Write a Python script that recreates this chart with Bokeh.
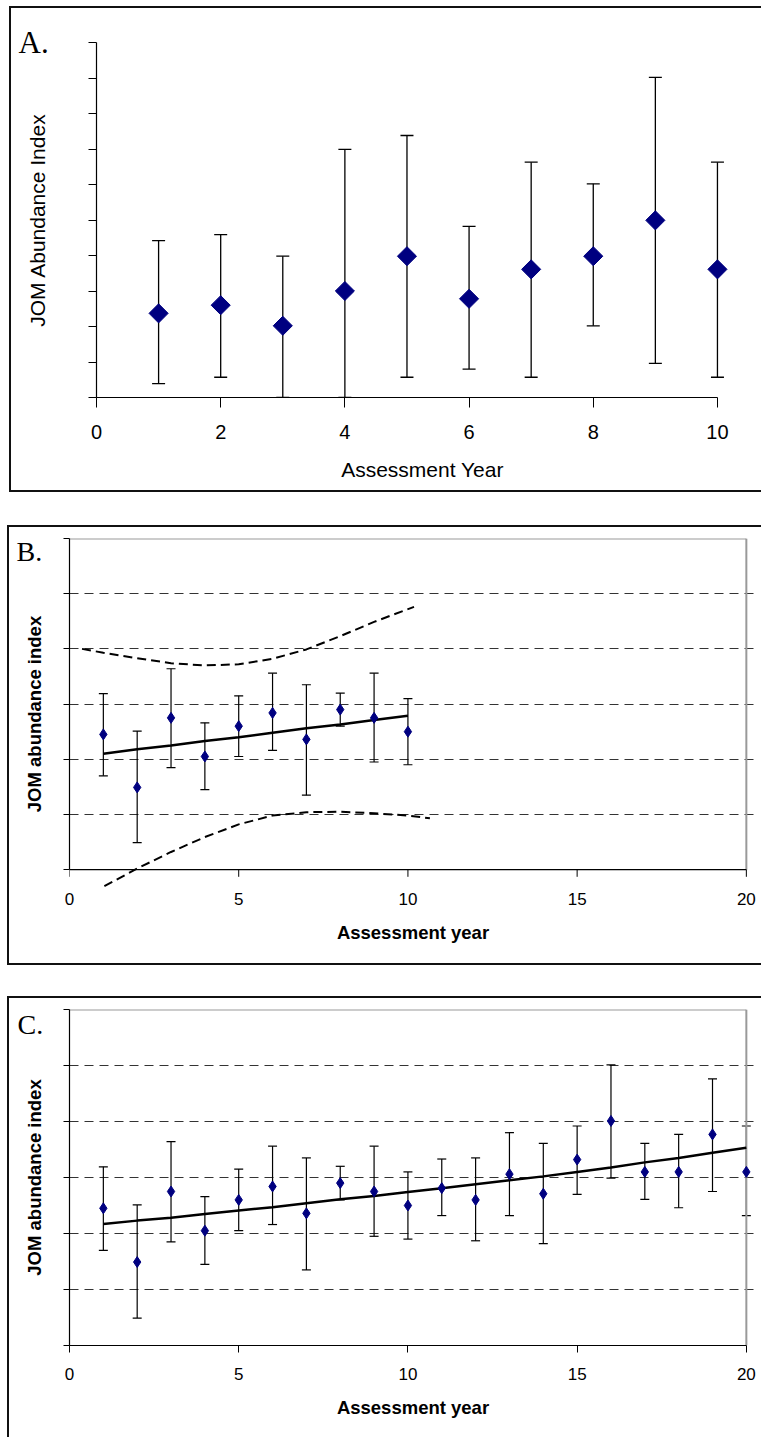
import numpy as np
from bokeh.plotting import figure
from bokeh.layouts import column
from bokeh.models import ColumnDataSource, Whisker, TeeHead, FixedTicker, Title
from bokeh.embed import file_html
from bokeh.resources import INLINE

# ---------------- Panel A data ----------------
years_a = [1, 2, 3, 4, 5, 6, 7, 8, 9, 10]
index_a = [2.37, 2.60, 2.02, 3.00, 3.98, 2.78, 3.61, 3.98, 4.99, 3.61]
upper_a = [4.42, 4.59, 3.98, 6.99, 7.38, 4.82, 6.63, 6.02, 9.02, 6.63]
lower_a = [0.39, 0.57, 0.00, 0.00, 0.57, 0.80, 0.57, 2.02, 0.96, 0.57]
xticks_a = [0, 2, 4, 6, 8, 10]
yticks_a = [0, 1, 2, 3, 4, 5, 6, 7, 8, 9, 10]

# ---------------- Panels B / C data ----------------
years = [1, 2, 3, 4, 5, 6, 7, 8, 9, 10, 11, 12, 13, 14, 15, 16, 17, 18, 19, 20]
index_c = [2.45, 1.49, 2.75, 2.05, 2.60, 2.84, 2.36, 2.90, 2.75, 2.50,
           2.81, 2.60, 3.06, 2.71, 3.32, 4.01, 3.10, 3.10, 3.77, 3.10]
upper_c = [3.19, 2.51, 3.64, 2.66, 3.15, 3.56, 3.35, 3.20, 3.56, 3.10,
           3.33, 3.35, 3.80, 3.61, 3.92, 5.01, 3.61, 3.77, 4.76, 3.92]
lower_c = [1.70, 0.49, 1.85, 1.45, 2.05, 2.16, 1.35, 2.60, 1.95, 1.90,
           2.32, 1.87, 2.32, 1.82, 2.70, 2.99, 2.61, 2.46, 2.75, 2.32]
trend_b = [2.10, 2.18, 2.25, 2.33, 2.40, 2.48, 2.56, 2.63, 2.71, 2.79]
trend_c = [2.17, 2.23, 2.28, 2.35, 2.41, 2.47, 2.54, 2.61, 2.67, 2.74,
           2.81, 2.88, 2.95, 3.02, 3.10, 3.18, 3.27, 3.35, 3.44, 3.53]
band_up_x = [0.37, 1, 2, 3, 4, 5, 6, 7, 8, 9, 10.18]
band_up_y = [4.00, 3.93, 3.83, 3.74, 3.70, 3.72, 3.82, 3.99, 4.23, 4.49, 4.76]
band_lo_x = [1.03, 2, 3, 4, 5, 6, 7, 8, 9, 10, 10.65]
band_lo_y = [-0.30, 0.02, 0.32, 0.59, 0.82, 0.98, 1.04, 1.05, 1.02, 0.98, 0.93]
xticks_bc = [0, 5, 10, 15, 20]
yticks_bc = [0, 1, 2, 3, 4, 5, 6]
grid_bc = [1, 2, 3, 4, 5]

SANS = "Liberation Sans"
SERIF = "Liberation Serif"
NAVY = "#000080"


def base_style(p):
    p.background_fill_alpha = 0
    p.border_fill_alpha = 0
    for ax in (p.xaxis, p.yaxis):
        ax.axis_line_color = "black"
        ax.axis_line_width = 1.2
        ax.major_tick_line_color = "black"
        ax.major_tick_in = 0
        ax.minor_tick_line_color = None
        ax.major_label_text_font = SANS
        ax.major_label_text_color = "black"
        ax.axis_label_text_font = SANS
        ax.axis_label_text_color = "black"


def add_errorbars(p, src, cap, lw):
    w = Whisker(source=src, base="x", upper="hi", lower="lo",
                line_color="black", line_width=lw, level="underlay",
                upper_head=TeeHead(size=cap, line_color="black", line_width=lw),
                lower_head=TeeHead(size=cap, line_color="black", line_width=lw))
    p.add_layout(w)


def panel_letter(p, text, size, offset, standoff, pad_top):
    # padding tuple order: (left, right, top, bottom)
    p.add_layout(Title(text=text, align="left", offset=offset, standoff=standoff,
                       padding=(0, 0, pad_top, 0),
                       text_font=SERIF, text_font_size=size, text_font_style="normal",
                       text_color="black"), "above")


# ================= Panel A =================
pa = figure(width=752, height=486, x_range=(0, 10.5), y_range=(0, 10),
            output_backend="svg", toolbar_location=None, frame_align=False,
            min_border_left=87, min_border_right=13, min_border_top=36, min_border_bottom=95,
            margin=(6, 0, 0, 9), outline_line_color=None,
            styles={"box-shadow": "inset 2px 2px 0 #111, inset 0 -2px 0 #111"})
base_style(pa)
pa.grid.visible = False
pa.xaxis.bounds = (xticks_a[0], xticks_a[-1])
pa.xaxis.ticker = FixedTicker(ticks=xticks_a, minor_ticks=[])
pa.xaxis.major_tick_out = 10
pa.xaxis.major_label_text_font_size = "20px"
pa.xaxis.major_label_standoff = 17
pa.xaxis.axis_label = "Assessment Year"
pa.xaxis.axis_label_text_font_size = "21px"
pa.xaxis.axis_label_text_font_style = "normal"
pa.xaxis.axis_label_standoff = 16
pa.yaxis.ticker = FixedTicker(ticks=yticks_a, minor_ticks=[])
pa.yaxis.major_tick_out = 8
pa.yaxis.major_label_overrides = {t: "" for t in yticks_a}
pa.yaxis.major_label_standoff = 0
pa.yaxis.axis_label = "JOM Abundance Index"
pa.yaxis.axis_label_text_font_size = "21px"
pa.yaxis.axis_label_text_font_style = "normal"
pa.yaxis.axis_label_standoff = 40

src_a = ColumnDataSource(dict(x=years_a, y=index_a, hi=upper_a, lo=lower_a))
add_errorbars(pa, src_a, 13, 1.3)
pa.scatter(x="x", y="y", source=src_a, marker="square", angle=np.pi / 4, size=13.5,
           fill_color=NAVY, line_color=NAVY)
panel_letter(pa, "A.", "31px", -78, -35, 2)


def style_bc(p):
    p.xgrid.visible = False
    p.ygrid.ticker = FixedTicker(ticks=grid_bc, minor_ticks=[])
    p.ygrid.grid_line_color = "#333333"
    p.ygrid.grid_line_dash = "9 6"
    p.ygrid.grid_line_width = 1
    p.xaxis.ticker = FixedTicker(ticks=xticks_bc, minor_ticks=[])
    p.xaxis.major_label_text_font_size = "17px"
    p.xaxis.axis_label = "Assessment year"
    p.xaxis.axis_label_text_font_size = "18.5px"
    p.xaxis.axis_label_text_font_style = "bold"
    p.xaxis.axis_label_standoff = 14
    p.yaxis.ticker = FixedTicker(ticks=yticks_bc, minor_ticks=[])
    p.yaxis.major_tick_out = 6
    p.yaxis.major_label_overrides = {t: "" for t in yticks_bc}
    p.yaxis.major_label_standoff = 0
    p.yaxis.axis_label = "JOM abundance index"
    p.yaxis.axis_label_text_font_size = "18.5px"
    p.yaxis.axis_label_text_font_style = "bold"
    p.yaxis.axis_label_standoff = 19
    p.yaxis.bounds = (yticks_bc[0], yticks_bc[-1])
    # plot-area border (top and right), light grey
    p.segment(x0=[xticks_bc[0], xticks_bc[-1]], y0=[yticks_bc[-1], yticks_bc[0]],
              x1=[xticks_bc[-1], xticks_bc[-1]], y1=[yticks_bc[-1], yticks_bc[-1]],
              line_color="#999999", line_width=2)


# ================= Panel B =================
pb = figure(width=754, height=440, x_range=(0, 20.3), y_range=(-0.36, 6),
            output_backend="svg", toolbar_location=None, frame_align=False,
            min_border_left=62, min_border_right=5, min_border_top=13, min_border_bottom=76,
            margin=(33, 0, 0, 7), outline_line_color=None,
            styles={"box-shadow": "inset 2px 2px 0 #111, inset 0 -2px 0 #111"})
base_style(pb)
style_bc(pb)
pb.xaxis.axis_line_color = None
pb.xaxis.major_tick_line_color = None
pb.xaxis.major_tick_out = 0
pb.xaxis.major_label_standoff = 3

# x axis line and ticks at y = 0 (the lower band dips below it)
pb.segment(x0=[xticks_bc[0]], y0=[yticks_bc[0]], x1=[xticks_bc[-1]], y1=[yticks_bc[0]],
           line_color="black", line_width=1.2)
pb.segment(x0=xticks_bc, y0=[0] * len(xticks_bc), x1=xticks_bc, y1=[-0.13] * len(xticks_bc),
           line_color="black", line_width=1)

pb.line(band_up_x, band_up_y, line_color="black", line_width=2, line_dash="9 5")
pb.line(band_lo_x, band_lo_y, line_color="black", line_width=2, line_dash="9 5")
pb.line(years[:10], trend_b, line_color="black", line_width=2.5)
src_b = ColumnDataSource(dict(x=years[:10], y=index_c[:10], hi=upper_c[:10], lo=lower_c[:10]))
add_errorbars(pb, src_b, 9, 1.2)
pb.scatter(x="x", y="y", source=src_b, marker="diamond", size=11,
           fill_color=NAVY, line_color=NAVY)
panel_letter(pb, "B.", "28px", -53, -57, 11)


# ================= Panel C =================
pc = figure(width=754, height=441, x_range=(0, 20.3), y_range=(0, 6),
            output_backend="svg", toolbar_location=None, frame_align=False,
            min_border_left=62, min_border_right=5, min_border_top=13, min_border_bottom=92,
            margin=(31, 0, 0, 7), outline_line_color=None,
            styles={"box-shadow": "inset 2px 2px 0 #111"})
base_style(pc)
style_bc(pc)
pc.xaxis.bounds = (xticks_bc[0], xticks_bc[-1])
pc.xaxis.major_tick_out = 7
pc.xaxis.major_label_standoff = 15

pc.line(years, trend_c, line_color="black", line_width=2.5)
src_c = ColumnDataSource(dict(x=years, y=index_c, hi=upper_c, lo=lower_c))
add_errorbars(pc, src_c, 9, 1.2)
pc.scatter(x="x", y="y", source=src_c, marker="diamond", size=11,
           fill_color=NAVY, line_color=NAVY)
panel_letter(pc, "C.", "28px", -52, -60, 11)

layout = column(pa, pb, pc)
open("out.html", "w").write(file_html(layout, INLINE))
